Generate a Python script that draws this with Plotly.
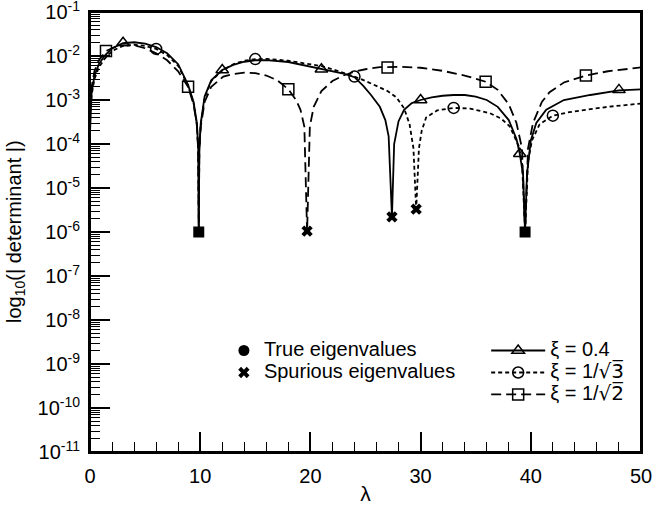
import plotly.graph_objects as go

# ---------------- data ----------------
lam_a = [0.0, 0.15, 0.4, 0.8, 1.3, 2, 3, 4, 5, 6, 7, 8, 8.9, 9.4, 9.7, 9.82, 9.87, 9.92,
         10.05, 10.4, 11, 12, 13, 14, 15, 16, 18, 20, 21, 22, 23, 24, 24.8, 25.5, 26.3,
         26.8, 27.1, 27.4, 27.6, 28, 28.5, 29.2, 30, 31, 32, 33, 34, 35, 36, 37, 38, 38.7,
         39.0, 39.3, 39.48, 39.65, 40, 40.5, 41.4, 43, 45.4, 48, 50]
det_a = [1.8e-4, 1.5e-3, 3.5e-3, 6.5e-3, 1.0e-2, 1.5e-2, 1.95e-2, 2.05e-2, 1.9e-2, 1.6e-2,
         1.15e-2, 6.5e-3, 2.2e-3, 9e-4, 3e-4, 8e-5, 1e-6, 8e-5,
         3e-4, 1.2e-3, 2.8e-3, 4.8e-3, 6.3e-3, 7.4e-3, 8.0e-3, 8.1e-3, 7.3e-3, 5.8e-3, 5.0e-3,
         4.5e-3, 4.0e-3, 3.3e-3, 2.1e-3, 1.3e-3, 7e-4,
         3.5e-4, 1.5e-4, 2.2e-6, 1e-4, 3.3e-4, 6e-4, 8.5e-4, 1.0e-3, 1.15e-3, 1.25e-3, 1.3e-3,
         1.3e-3, 1.2e-3, 1.0e-3, 7e-4, 3.5e-4, 1.3e-4,
         6e-5, 2e-5, 1e-6, 2e-5, 1.2e-4, 3e-4, 6e-4, 1.0e-3, 1.3e-3, 1.65e-3, 1.75e-3]

lam_b = [0.0, 0.15, 0.4, 0.8, 1.3, 2, 3, 4, 5, 6, 7, 8, 8.9, 9.4, 9.7, 9.82, 9.87, 9.92,
         10.05, 10.4, 11, 12, 13, 14, 15, 16, 18, 20, 21, 22, 23, 24, 25, 26, 27, 27.8, 28.5,
         29.0, 29.35, 29.6, 29.85, 30.1, 30.5, 31.5, 33, 34.5, 36.3, 37.3, 38.1, 38.9, 39.2,
         39.48, 39.75, 40.1, 40.8, 42, 43.5, 44.8, 47, 50]
det_b = [5e-4, 1.3e-3, 3e-3, 5.5e-3, 8.5e-3, 1.3e-2, 1.7e-2, 1.8e-2, 1.7e-2, 1.45e-2,
         1.05e-2, 6.0e-3, 2.1e-3, 8.5e-4, 2.8e-4, 7.5e-5, 1e-6, 7.5e-5,
         2.8e-4, 1.1e-3, 2.7e-3, 4.7e-3, 6.5e-3, 7.8e-3, 8.5e-3, 8.6e-3, 7.8e-3, 6.6e-3, 5.9e-3,
         5.0e-3, 4.2e-3, 3.4e-3, 2.7e-3, 2.1e-3, 1.6e-3, 1.15e-3, 6.5e-4,
         2.8e-4, 8e-5, 3.3e-6, 8e-5, 2e-4, 4e-4, 5.8e-4, 6.6e-4, 6.4e-4, 5e-4, 3.8e-4, 2.5e-4,
         9e-5, 4e-5, 1e-6, 4e-5, 1.2e-4, 2.8e-4, 4.4e-4, 5.3e-4, 5.9e-4, 7e-4, 8.3e-4]

lam_c = [0.0, 0.15, 0.4, 0.8, 1.45, 2, 3, 4, 5, 6, 7, 8, 8.9, 9.4, 9.7, 9.82, 9.87, 9.92,
         10.05, 10.4, 11, 12.1, 13, 14, 15, 16, 17, 18, 18.7, 19.1, 19.45, 19.7, 19.95, 20.3,
         21, 22, 23, 24, 25, 26.3, 27, 28, 30, 32, 34, 35.9, 37, 38, 38.7, 39.2, 39.48, 39.75,
         40.2, 41, 41.7, 43, 45, 47, 50]
det_c = [7e-4, 2e-3, 4.5e-3, 8e-3, 1.3e-2, 1.5e-2, 1.75e-2, 1.75e-2, 1.5e-2, 1.15e-2,
         8e-3, 4.5e-3, 2.0e-3, 8e-4, 2.6e-4, 7e-5, 1e-6, 7e-5,
         2.5e-4, 9e-4, 2e-3, 3.4e-3, 3.9e-3, 4.2e-3, 4.1e-3, 3.6e-3, 2.8e-3, 1.75e-3, 1.0e-3,
         6e-4, 2.5e-4, 1e-6, 2.5e-4, 7e-4,
         1.6e-3, 2.7e-3, 3.6e-3, 4.4e-3, 5.0e-3, 5.6e-3, 5.6e-3, 5.7e-3, 5.4e-3, 4.6e-3,
         3.6e-3, 2.6e-3, 1.7e-3, 8e-4, 3e-4, 8e-5, 1e-6, 8e-5,
         3e-4, 9e-4, 1.5e-3, 2.5e-3, 3.6e-3, 4.5e-3, 5.5e-3]

# symbols placed along the curves
mk_a_lam = [3, 12, 21, 30, 39, 48]
mk_a_det = [2.0e-2, 4.8e-3, 5.0e-3, 1.0e-3, 6e-5, 1.7e-3]
mk_b_lam = [6, 15, 24, 33, 42]
mk_b_det = [1.45e-2, 8.5e-3, 3.4e-3, 6.6e-4, 4.4e-4]
mk_c_lam = [1.45, 8.9, 18.0, 27.0, 35.9, 45.0]
mk_c_det = [1.3e-2, 2.0e-3, 1.75e-3, 5.5e-3, 2.6e-3, 3.6e-3]

true_lam = [9.87, 39.48]
true_det = [1e-6, 1e-6]
spur_lam = [19.7, 27.4, 29.6]
spur_det = [1.05e-6, 2.2e-6, 3.3e-6]

ROOT = "<span style=\"font-family:'DejaVu Sans'\">√%s\u0305</span>"
names = ["ξ = 0.4", "ξ = 1/" + ROOT % "3", "ξ = 1/" + ROOT % "2"]
true_name = "True eigenvalues"
spur_name = "Spurious eigenvalues"
y_title = "log<sub>10</sub>(| determinant |)"
x_title = "λ"

ytick_exp = list(range(-11, 0))
ytick_text = ["10<sup>%d</sup>" % e for e in ytick_exp]

# ---------------- figure ----------------
FONT = "Liberation Sans, Arial, sans-serif"
LEG_TXT = "<span style='font-size:20px'>%s</span>"
fig = go.Figure()

curves = [(lam_a, det_a, mk_a_lam, mk_a_det, "solid", "triangle-up-open"),
          (lam_b, det_b, mk_b_lam, mk_b_det, "4px,3px", "circle-open"),
          (lam_c, det_c, mk_c_lam, mk_c_det, "10px,5px", "square-open")]

for (lx, ly, mx, my, dash, sym), nm in zip(curves, names):
    fig.add_trace(go.Scatter(x=lx, y=ly, mode="lines", showlegend=False,
                             line=dict(color="black", width=1.8, dash=dash)))
    fig.add_trace(go.Scatter(x=mx, y=my, mode="markers", showlegend=False,
                             marker=dict(symbol=sym, size=11, color="black",
                                         line=dict(color="black", width=1.5))))
    # legend entry
    fig.add_trace(go.Scatter(x=[None], y=[None], mode="lines+markers", name=LEG_TXT % nm,
                             legend="legend2",
                             line=dict(color="black", width=1.8, dash=dash),
                             marker=dict(symbol=sym, size=11, color="black",
                                         line=dict(color="black", width=1.5))))

fig.add_trace(go.Scatter(x=true_lam, y=true_det, mode="markers", showlegend=False,
                         marker=dict(symbol="square", size=11, color="black")))
fig.add_trace(go.Scatter(x=[None], y=[None], mode="markers", name=LEG_TXT % true_name,
                         legend="legend",
                         marker=dict(symbol="circle", size=11, color="black")))
fig.add_trace(go.Scatter(x=spur_lam, y=spur_det, mode="markers", name=LEG_TXT % spur_name,
                         legend="legend",
                         marker=dict(symbol="x", size=10, color="black",
                                     line=dict(width=0))))

minor_y = [m * 10.0 ** e for e in range(-11, -1) for m in range(2, 10)]

fig.update_layout(
    width=652, height=505,
    margin=dict(l=90, r=11, t=12, b=53, autoexpand=False),
    paper_bgcolor="white", plot_bgcolor="white",
    font=dict(family=FONT, size=19, color="black"),
    xaxis=dict(range=[0, 50], tickmode="linear", tick0=0, dtick=10,
               ticks="inside", ticklen=20, tickwidth=1.5, tickcolor="black",
               minor=dict(dtick=2, ticks="inside", ticklen=10, tickwidth=1.2,
                          tickcolor="black", showgrid=False),
               showline=True, linecolor="black", linewidth=2, mirror=True,
               showgrid=False, zeroline=False, automargin=False,
               ticklabeloverflow="allow",
               tickfont=dict(size=20), ticklabelstandoff=5,
               title=dict(text=x_title, font=dict(size=21), standoff=12)),
    yaxis=dict(type="log", range=[-11, -1],
               tickmode="array", tickvals=[10.0 ** e for e in ytick_exp], ticktext=ytick_text,
               ticks="inside", ticklen=20, tickwidth=1.5, tickcolor="black",
               minor=dict(tickmode="array", tickvals=minor_y, ticks="inside", ticklen=10,
                          tickwidth=1.2, tickcolor="black", showgrid=False),
               showline=True, linecolor="black", linewidth=2, mirror=True,
               showgrid=False, zeroline=False, automargin=False,
               ticklabeloverflow="allow",
               tickfont=dict(size=20), ticklabelstandoff=4),
    shapes=[dict(type="rect", xref="x domain", yref="y domain", x0=0, x1=1, y0=0, y1=1,
                 line=dict(color="black", width=2), fillcolor="rgba(0,0,0,0)", layer="above")],
    annotations=[dict(text=y_title, xref="paper", yref="paper", x=-0.136, y=0.5,
                      xanchor="center", yanchor="middle", textangle=-90, showarrow=False,
                      font=dict(size=20))],
    legend=dict(x=0.243, y=0.267, xanchor="left", yanchor="top",
                bgcolor="rgba(0,0,0,0)", font=dict(size=14.6), itemwidth=30,
                tracegroupgap=0),
    legend2=dict(x=0.719, y=0.267, xanchor="left", yanchor="top",
                 bgcolor="rgba(0,0,0,0)", font=dict(size=14.6), itemwidth=54,
                 tracegroupgap=0),
)

fig.write_html("out.html")
